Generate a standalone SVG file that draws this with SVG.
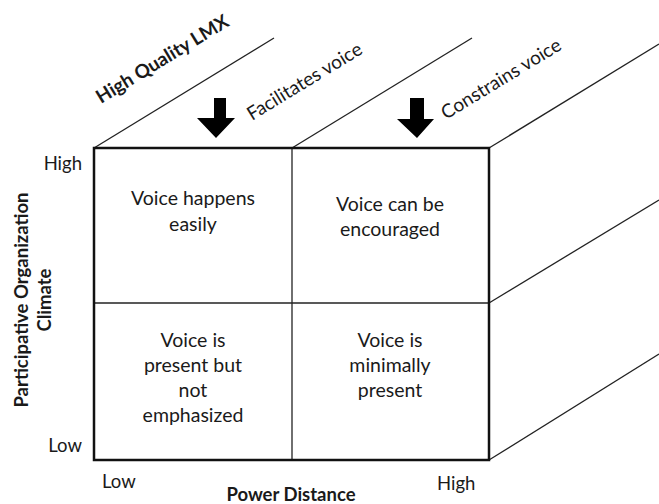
<svg xmlns="http://www.w3.org/2000/svg" width="659" height="504" viewBox="0 0 659 504">
<style>
text{font-family:Lato,"Open Sans","Liberation Sans",sans-serif;fill:#1a1a1a}
.cell{font-size:19.5px;text-anchor:middle}
.ax{font-size:18.5px}
.b{font-weight:bold}
.thin{stroke:#222;stroke-width:1.3;fill:none}
.thick{stroke:#111;stroke-width:2.5;fill:none}
.arr{fill:#000}
</style>
<rect width="659" height="504" fill="#fff"/>
<g id="connectors">
<line class="thin" x1="94" y1="148" x2="274" y2="38"/>
<line class="thin" x1="292" y1="148" x2="472" y2="38"/>
<line class="thin" x1="489" y1="148" x2="659" y2="44"/>
<line class="thin" x1="489" y1="303" x2="659" y2="200"/>
<line class="thin" x1="489" y1="460" x2="659" y2="354"/>
<line class="thin" x1="292" y1="148" x2="292" y2="460"/>
<line class="thin" x1="94" y1="303" x2="489" y2="303"/>
<path class="arr" d="M214,98 H226 V118 H235 L216,138 L197,118 H214 Z"/>
<path class="arr" d="M410,98 H424 V119 H434 L417,138 L397,119 H410 Z"/>
</g>
<g id="box"><rect class="thick" x="94" y="148" width="395" height="312"/></g>
<g id="top-labels">
<text class="b" font-size="19" transform="translate(101,104) rotate(-31.4)">High Quality LMX</text>
<text font-size="19" transform="translate(252,121) rotate(-31.4)">Facilitates voice</text>
<text font-size="19" transform="translate(446,120) rotate(-31.4)">Constrains voice</text>
</g>
<g id="cell-hl"><text class="cell" x="193" y="205">Voice happens</text><text class="cell" x="193" y="231">easily</text></g>
<g id="cell-hh"><text class="cell" x="390" y="211">Voice can be</text><text class="cell" x="390" y="236">encouraged</text></g>
<g id="cell-ll"><text class="cell" x="193" y="347">Voice is</text><text class="cell" x="193" y="372">present but</text><text class="cell" x="193" y="397">not</text><text class="cell" x="193" y="422">emphasized</text></g>
<g id="cell-lh"><text class="cell" x="390" y="347">Voice is</text><text class="cell" x="390" y="372">minimally</text><text class="cell" x="390" y="397">present</text></g>
<g id="axes">
<text class="ax" x="82" y="170" text-anchor="end">High</text>
<text class="ax" x="82" y="452" text-anchor="end">Low</text>
<text class="ax" x="102" y="488">Low</text>
<text class="ax" x="437" y="490">High</text>
<text class="b" font-size="18.5" x="291" y="501" text-anchor="middle">Power Distance</text>
<text class="b" font-size="18.5" text-anchor="middle" transform="translate(28,300) rotate(-90)">Participative Organization</text>
<text class="b" font-size="18.5" text-anchor="middle" transform="translate(51,300) rotate(-90)">Climate</text>
</g>
</svg>
